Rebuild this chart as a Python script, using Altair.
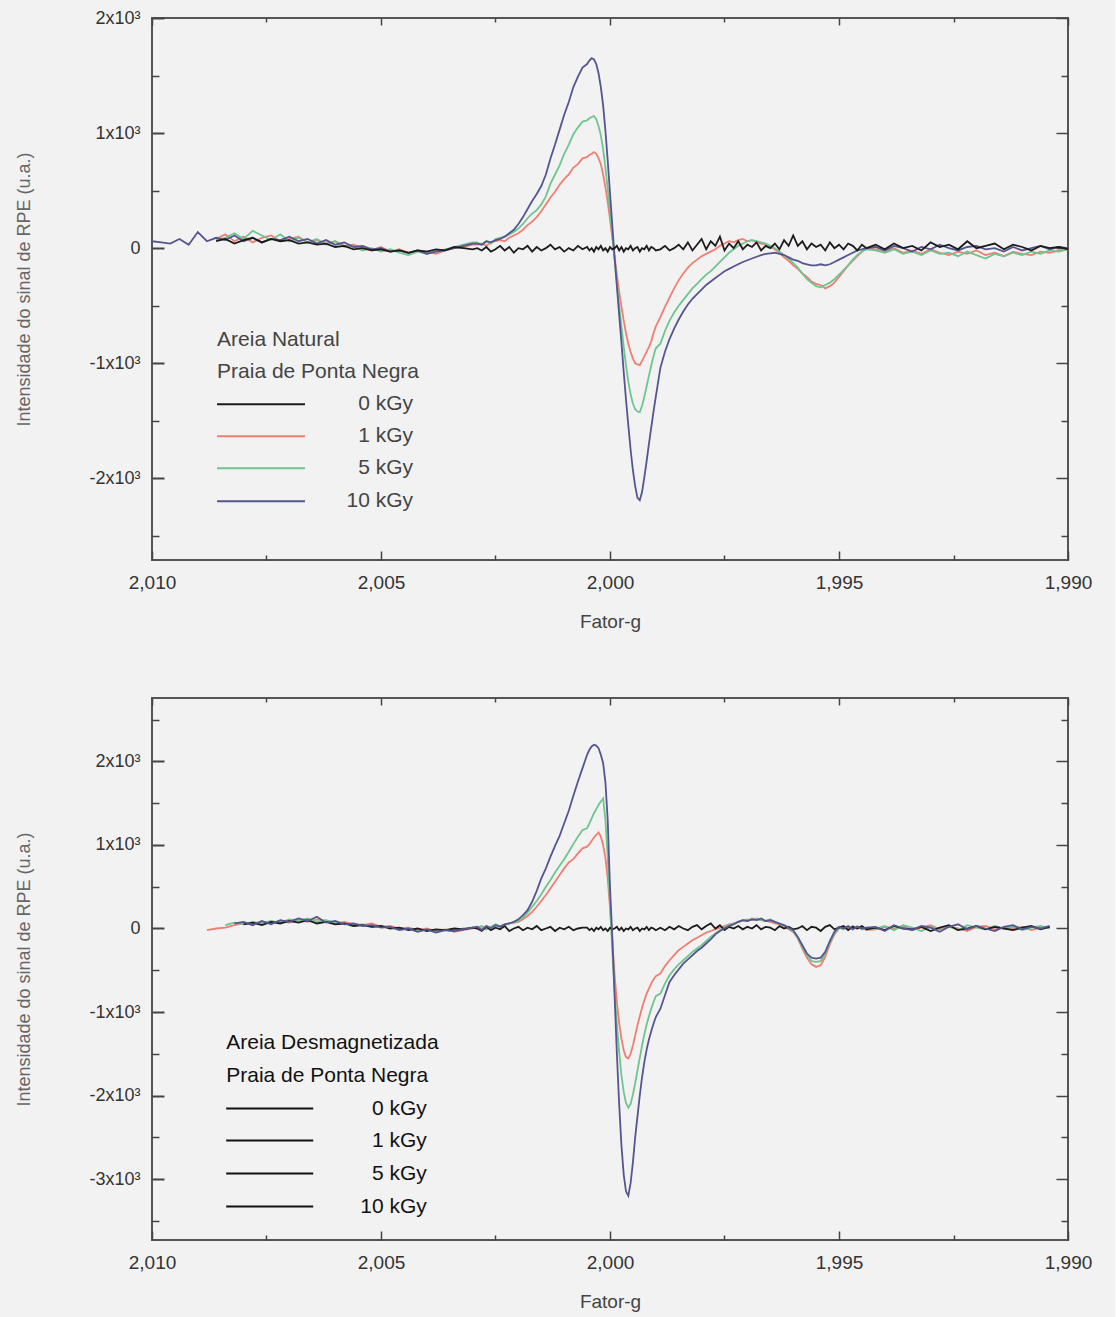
import altair as alt
import pandas as pd

SERIES = ["0 kGy", "1 kGy", "5 kGy", "10 kGy"]
COLORS = ["#1c1c1c", "#ee7f72", "#6fc48f", "#55558f"]

X_MAJOR = [2.010, 2.005, 2.000, 1.995, 1.990]
X_MINOR = [2.0075, 2.0025, 1.9975, 1.9925]

TOP_Y_MAJOR = [-2000, -1000, 0, 1000, 2000]
TOP_Y_MINOR = [-2500, -1500, -500, 500, 1500]
BOT_Y_MAJOR = [-3000, -2000, -1000, 0, 1000, 2000]
BOT_Y_MINOR = [-3500, -2500, -1500, -500, 500, 1500, 2500]

TOP_Y_DOMAIN = [-2710, 2000]
BOT_Y_DOMAIN = [-3730, 2760]

# ---- g-factor sample positions ----
G_A_TOP = [2.0100, 2.0098, 2.0096, 2.0094, 2.0092, 2.0090, 2.0088, 2.0086, 2.0084, 2.0082,
           2.0080, 2.0078, 2.0076, 2.0074, 2.0072, 2.0070, 2.0068, 2.0066, 2.0064, 2.0062,
           2.0060, 2.0058, 2.0056, 2.0054, 2.0052, 2.0050, 2.0048, 2.0046, 2.0044, 2.0042,
           2.0040, 2.0038, 2.0036, 2.0034, 2.0032, 2.0030]
G_A_BOT = [2.0088, 2.0086, 2.0084, 2.0082, 2.0080, 2.0078, 2.0076, 2.0074, 2.0072, 2.0070,
           2.0068, 2.0066, 2.0064, 2.0062, 2.0060, 2.0058, 2.0056, 2.0054, 2.0052, 2.0050,
           2.0048, 2.0046, 2.0044, 2.0042, 2.0040, 2.0038, 2.0036, 2.0034, 2.0032, 2.0030]
G_B = [2.0029, 2.0028, 2.0027, 2.0026, 2.0025, 2.0024, 2.0023, 2.0022, 2.0021, 2.0020,
       2.0019, 2.0018, 2.0017, 2.0016, 2.0015, 2.0014, 2.0013, 2.0012, 2.0011, 2.0010,
       2.0009, 2.0008, 2.0007, 2.0006]
G_C = [2.00050, 2.00045, 2.00040, 2.00035, 2.00030, 2.00025, 2.00020, 2.00015, 2.00010, 2.00005,
       2.00000, 1.99995, 1.99990, 1.99985, 1.99980, 1.99975, 1.99970, 1.99965, 1.99960, 1.99955,
       1.99950, 1.99945, 1.99940, 1.99935, 1.99930, 1.99925, 1.99920, 1.99915, 1.99910, 1.99905,
       1.99900]
G_D = [1.9989, 1.9988, 1.9987, 1.9986, 1.9985, 1.9984, 1.9983, 1.9982, 1.9981, 1.9980,
       1.9979, 1.9978, 1.9977, 1.9976, 1.9975, 1.9974, 1.9973, 1.9972, 1.9971, 1.9970,
       1.9969, 1.9968, 1.9967, 1.9966, 1.9965, 1.9964, 1.9963, 1.9962, 1.9961, 1.9960]
G_E = [1.9959, 1.9958, 1.9957, 1.9956, 1.9955, 1.9954, 1.9953, 1.9952, 1.9951, 1.9950,
       1.9949, 1.9948, 1.9947, 1.9946, 1.9945, 1.9944]
G_F_TOP = [1.9942, 1.9940, 1.9938, 1.9936, 1.9934, 1.9932, 1.9930, 1.9928, 1.9926, 1.9924,
           1.9922, 1.9920, 1.9918, 1.9916, 1.9914, 1.9912, 1.9910, 1.9908, 1.9906, 1.9904,
           1.9902, 1.9900]
G_F_BOT = [1.9942, 1.9940, 1.9938, 1.9936, 1.9934, 1.9932, 1.9930, 1.9928, 1.9926, 1.9924,
           1.9922, 1.9920, 1.9918, 1.9916, 1.9914, 1.9912, 1.9910, 1.9908, 1.9906, 1.9904]

G_TOP = G_A_TOP + G_B + G_C + G_D + G_E + G_F_TOP
G_BOT = G_A_BOT + G_B + G_C + G_D + G_E + G_F_BOT

N = None

# ---- Top panel: Areia Natural ----
TOP_0 = ([N] * 7 + [60, 80, 40, 70, 90, 50, 80, 60, 70, 40, 50, 30, 40, 10, 20, -10, 0, -20, -10, -30,
                    -20, -40, -20, -30, -10, -20, 10, 0, -10]
         + [0, -20, 10, -30, -10, 20, -20, 10, -40, 0, -10, 20, -30, 10, -20, 0, 30, -10, 10, -30,
            0, -20, 20, -10]
         + [10, -20, 0, -30, 10, -10, 20, -20, 0, -30, 10, -10, 0, 20, -20, 10, -30, 0, -10, 20,
            -20, 0, 10, -30, 0, -10, 20, -20, 10, 0, -20]
         + [-10, 20, -20, 0, 30, -10, 50, -20, 30, 80, -10, 60, 20, 100, -20, 40, 0, 60, -10, 30,
            10, 50, -20, 20, 0, 40, -10, 70, 20, 110]
         + [20, 60, -10, 40, 10, 30, -20, 50, 0, 30, -10, 40, 20, -20, 30, 0]
         + [30, -10, 40, 0, 20, -20, 50, 10, 30, -10, 60, 0, 20, 40, -10, 30, 10, -20, 20, 0, 10, -10])
TOP_1 = ([N] * 7 + [80, 120, 60, 100, 50, 90, 110, 60, 80, 100, 50, 70, 40, 60, 20, 30, 0, -20, 10, -30,
                    -10, -40, -20, -30, -50, -20, 0, 10, 30]
         + [30, 40, 20, 50, 60, 70, 60, 90, 110, 130, 160, 200, 230, 270, 320, 380, 440, 490, 550, 600,
            640, 700, 730, 780]
         + [790, 810, 820, 835, 820, 780, 730, 640, 530, 400, 250, 90, -70, -230, -380, -510, -630,
            -740, -830, -900, -960, -1000, -1010, -1017, -980, -940, -900, -860, -810, -740, -680]
         + [-600, -510, -430, -350, -280, -220, -170, -130, -100, -70, -50, -30, -10, 20, 40, 60, 50,
            70, 80, 60, 70, 50, 40, 30, 10, -10, -40, -80, -110, -150]
         + [-180, -220, -250, -290, -310, -320, -350, -330, -300, -250, -200, -150, -110, -70, -30, 0]
         + [-10, -30, 0, -40, -20, -50, -10, -40, -60, -30, -50, -20, -60, -40, -70, -30, -50, -60,
            -30, -40, -20, -10])
TOP_5 = ([N] * 7 + [70, 90, 130, 80, 150, 110, 70, 120, 60, 90, 50, 80, 30, 60, 10, 20, -20, 0, -30, -10,
                    -40, -60, -30, -50, -30, -10, 10, 30, 50]
         + [50, 30, 60, 40, 80, 90, 100, 120, 140, 170, 210, 260, 300, 330, 380, 450, 560, 640, 720,
            820, 900, 990, 1050, 1100]
         + [1110, 1130, 1140, 1148, 1120, 1060, 980, 860, 700, 520, 320, 120, -100, -300, -500, -680,
            -860, -1020, -1160, -1270, -1350, -1400, -1420, -1426, -1370, -1290, -1200, -1110, -1020,
            -940, -870]
         + [-830, -720, -630, -560, -500, -450, -400, -350, -310, -270, -230, -200, -160, -120, -80,
            -40, -10, 20, 40, 60, 70, 60, 50, 40, 20, 0, -30, -60, -90, -130]
         + [-170, -220, -270, -300, -330, -340, -320, -300, -270, -230, -190, -150, -100, -60, -30, -10]
         + [-20, -40, -10, -50, -30, -60, -20, -50, -40, -70, -30, -60, -90, -50, -70, -40, -60, -30,
            -50, -20, -30, -10])
TOP_10 = ([60, 50, 40, 80, 30, 140, 60, 90, 70, 110, 60, 90, 50, 80, 70, 100, 60, 80, 40, 70, 30, 50,
           10, 20, -10, 0, -30, -20, -40, -20, -50, -30, -20, 0, 20, 40]
          + [40, 30, 60, 50, 70, 80, 100, 130, 160, 210, 270, 340, 410, 470, 540, 640, 780, 900, 1030,
             1160, 1270, 1400, 1490, 1570]
          + [1600, 1630, 1652, 1640, 1600, 1520, 1400, 1240, 1020, 760, 480, 200, -80, -330, -580, -820,
             -1080, -1320, -1540, -1750, -1930, -2070, -2170, -2191, -2120, -1990, -1850, -1700, -1560,
             -1420, -1290]
          + [-1040, -900, -790, -700, -620, -550, -490, -440, -400, -360, -320, -290, -260, -230, -200,
             -180, -160, -140, -120, -105, -90, -75, -60, -50, -45, -40, -50, -60, -80, -100]
          + [-110, -130, -140, -150, -150, -140, -150, -140, -120, -100, -80, -60, -40, -20, -10, 0]
          + [10, -20, 20, 0, -30, 10, -10, 30, 0, -20, 10, 20, -10, 0, -30, 10, -20, 0, 20, -10, 10, 0])

# ---- Bottom panel: Areia Desmagnetizada ----
BOT_0 = ([N] * 4 + [50, 70, 40, 80, 60, 90, 70, 100, 60, 80, 50, 60, 30, 40, 20, 30, 0, 10, -20, 0,
                    -30, -10, -20, 0, -10, 10]
         + [0, -30, 20, -20, 10, -10, 30, -30, 0, 20, -20, 10, -10, 30, -20, 0, 20, -30, 10, -10,
            20, -20, 0, 10]
         + [10, -20, 0, -30, 10, -10, 20, -20, 0, -30, 10, -10, 0, 20, -20, 10, -30, 0, -10, 20,
            -20, 0, 10, -30, 0, -10, 20, -20, 10, 0, -20]
         + [10, -20, 20, -10, 30, 0, -20, 20, 40, -10, 30, 60, 0, 40, -20, 20, 0, 30, -10, 20,
            0, 40, -10, 20, 10, -20, 30, 0, 20, -10]
         + [0, 30, -20, 20, 10, -30, 20, 40, -10, 10, 30, -20, 20, 0, 30, -10]
         + [10, -20, 30, 0, -10, 20, -30, 10, 40, -20, 0, 30, -10, 20, 0, -20, 10, 30, -10, 20])
BOT_1 = ([-20, 0, 10, 40, 60, 50, 80, 60, 90, 70, 100, 80, 110, 90, 60, 80, 50, 40, 60, 20, 30, 0,
          10, -20, 0, -30, -10, -40, -20, 0]
         + [20, 0, 30, 10, 40, 20, 50, 60, 70, 80, 110, 150, 200, 260, 330, 400, 480, 560, 640, 720,
            790, 830, 900, 960]
         + [980, 1010, 1050, 1090, 1120, 1150, 1100, 1000, 850, 600, 250, -150, -550, -880, -1130,
            -1320, -1460, -1540, -1557, -1500, -1400, -1280, -1160, -1050, -950, -860, -780, -720,
            -660, -610, -570]
         + [-540, -450, -380, -320, -260, -220, -180, -140, -110, -80, -50, -30, -10, 10, 30, 50, 60,
            80, 100, 90, 120, 110, 100, 90, 80, 60, 50, 20, -10, -40]
         + [-120, -240, -350, -430, -460, -440, -340, -190, -70, 0, 20, -10, 30, 0, 10, -20]
         + [-10, 20, 0, 30, -20, 10, 40, -10, 20, 0, -30, 20, 30, -10, 10, 0, 20, -20, 10, 20])
BOT_5 = ([N] * 2 + [40, 70, 50, 80, 60, 90, 70, 110, 90, 120, 80, 100, 70, 60, 40, 50, 20, 30, 10, -10,
                    0, -30, -10, -40, -20, -30, 0, 10]
         + [10, 30, -10, 20, 50, 30, 40, 60, 70, 90, 130, 190, 260, 330, 410, 500, 580, 670, 750, 830,
            920, 1010, 1100, 1180]
         + [1200, 1260, 1320, 1380, 1430, 1480, 1520, 1557, 1300, 850, 300, -250, -750, -1150, -1480,
            -1760, -1960, -2090, -2144, -2100, -1990, -1850, -1700, -1550, -1400, -1270, -1150, -1050,
            -960, -880, -810]
         + [-780, -660, -560, -490, -430, -380, -330, -280, -240, -200, -150, -100, -60, -20, 10, 40,
            60, 80, 90, 110, 100, 120, 100, 90, 110, 80, 60, 30, 0, -30]
         + [-110, -220, -320, -390, -400, -390, -300, -170, -60, 10, -10, 20, 0, 30, -10, 0]
         + [0, 30, -20, 40, 10, -30, 20, 0, 30, -20, 40, 10, -10, 30, 0, 20, -20, 10, 30, 0])
BOT_10 = ([N] * 3 + [60, 80, 40, 90, 50, 100, 80, 120, 90, 140, 70, 90, 50, 60, 30, 40, 10, 20, -20, 0,
                     -40, -10, -50, -20, -30, -10, 10]
          + [20, -20, 30, 0, 40, 20, 50, 60, 80, 110, 160, 220, 320, 450, 600, 720, 860, 990, 1110,
             1260, 1410, 1590, 1760, 1920]
          + [2080, 2140, 2180, 2200, 2190, 2160, 2080, 1980, 1750, 1300, 500, -100, -800, -1500, -2100,
             -2600, -2950, -3150, -3200, -3050, -2800, -2500, -2250, -2000, -1780, -1600, -1450, -1330,
             -1230, -1140, -1060]
          + [-960, -800, -640, -560, -490, -420, -370, -320, -270, -230, -180, -130, -70, -30, 0, 30,
             50, 80, 100, 90, 110, 100, 120, 90, 100, 80, 60, 40, 10, -20]
          + [-100, -200, -300, -350, -360, -350, -280, -150, -40, 20, 0, 30, -10, 20, 0, 10]
          + [20, -30, 40, 0, -20, 30, 10, -40, 20, 50, -10, 30, 0, -30, 20, 40, -10, 20, 0, 30])

# ---- legend text / positions (data units) ----
TOP_LEG_TITLE = ["Areia Natural", "Praia de Ponta Negra"]
TOP_LEG_TITLE_V = [-800, -1078]
TOP_LEG_ROW_V = [-1357, -1635, -1913, -2200]
TOP_LEG_G = [2.00858, 2.00666, 2.0043]

BOT_LEG_TITLE = ["Areia Desmagnetizada", "Praia de Ponta Negra"]
BOT_LEG_TITLE_V = [-1377, -1772]
BOT_LEG_ROW_V = [-2156, -2539, -2934, -3329]
BOT_LEG_G = [2.00838, 2.00648, 2.0040]

FONT = "Liberation Sans"
AX_COLOR = "#444"


def long_df(g, series_vals, order):
    rows = []
    for s in order:
        vals = series_vals[s]
        assert len(vals) == len(g), (s, len(vals), len(g))
        for gi, vi in zip(g, vals):
            if vi is not None:
                rows.append({"g": gi, "v": vi, "series": s})
    return pd.DataFrame(rows)


XS = alt.Scale(domain=[1.990, 2.010], reverse=True, nice=False, zero=False)
CS = alt.Scale(domain=SERIES, range=COLORS)


def axis_pair(kind, y_major, y_minor, ytitle):
    """kind: 'main', 'minor_bl', 'major_tr', 'minor_tr'"""
    common = dict(domain=False, grid=False, tickColor=AX_COLOR, tickWidth=1.5, title=None)
    if kind == "main":
        xa = alt.Axis(orient="bottom", values=X_MAJOR, tickSize=9, offset=-9, labels=True,
                      labelExpr="replace(format(datum.value, '.3f'), '.', ',')",
                      labelFlush=False, labelOverlap=False, labelFont=FONT, labelFontSize=19,
                      labelColor="#333", labelPadding=13,
                      domain=False, grid=False, tickColor=AX_COLOR, tickWidth=1.5,
                      title="Fator-g", titleFont=FONT, titleFontSize=19, titleFontWeight="normal",
                      titleColor="#444", titlePadding=20)
        ya = alt.Axis(orient="left", values=y_major, tickSize=12, offset=-12, labels=True,
                      labelExpr="datum.value == 0 ? '0' : (datum.value < 0 ? '-' : '') + abs(datum.value / 1000) + 'x10³'",
                      labelOverlap=False, labelFont=FONT, labelFontSize=18, labelColor="#333",
                      labelPadding=12,
                      domain=False, grid=False, tickColor=AX_COLOR, tickWidth=2,
                      title=ytitle, titleFont=FONT, titleFontSize=18, titleFontWeight="normal",
                      titleColor="#666", titlePadding=55)
    elif kind == "minor_bl":
        xa = alt.Axis(orient="bottom", values=X_MINOR, tickSize=5, offset=-5, labels=False, **common)
        ya = alt.Axis(orient="left", values=y_minor, tickSize=7, offset=-7, labels=False, **common)
    elif kind == "major_tr":
        xa = alt.Axis(orient="top", values=X_MAJOR, tickSize=7, offset=-7, labels=False, **common)
        ya = alt.Axis(orient="right", values=y_major, tickSize=12, offset=-12, labels=False, **common)
    else:
        xa = alt.Axis(orient="top", values=X_MINOR, tickSize=4, offset=-4, labels=False, **common)
        ya = alt.Axis(orient="right", values=y_minor, tickSize=7, offset=-7, labels=False, **common)
    return xa, ya


def panel(df, draw_order, ydomain, y_major, y_minor, ytitle,
          leg_title, leg_title_v, leg_row_v, leg_g, legend_colored, text_color):
    ys = alt.Scale(domain=ydomain, nice=False, zero=False)
    layers = []
    for kind in ["main", "minor_bl", "major_tr", "minor_tr"]:
        xa, ya = axis_pair(kind, y_major, y_minor, ytitle)
        layers.append(
            alt.Chart(df).mark_line(opacity=0).encode(
                x=alt.X("g:Q", scale=XS, axis=xa),
                y=alt.Y("v:Q", scale=ys, axis=ya),
            )
        )
    for s in draw_order:
        layers.append(
            alt.Chart(df).transform_filter(alt.datum.series == s).mark_line(
                strokeWidth=1.8, clip=True
            ).encode(
                x=alt.X("g:Q", scale=XS, axis=None),
                y=alt.Y("v:Q", scale=ys, axis=None),
                color=alt.Color("series:N", scale=CS, legend=None),
            )
        )
    leg_rows = pd.DataFrame({
        "series": SERIES, "v": leg_row_v,
        "g1": [leg_g[0]] * 4, "g2": [leg_g[1]] * 4, "glab": [leg_g[2]] * 4,
    })
    leg_titles = pd.DataFrame({"label": leg_title, "v": leg_title_v, "g": [leg_g[0]] * len(leg_title)})
    rule_color = (alt.Color("series:N", scale=CS, legend=None) if legend_colored
                  else alt.value("#111111"))
    layers.append(
        alt.Chart(leg_rows).mark_rule(strokeWidth=2).encode(
            x=alt.X("g1:Q", scale=XS, axis=None), x2="g2:Q",
            y=alt.Y("v:Q", scale=ys, axis=None),
            color=rule_color,
        )
    )
    layers.append(
        alt.Chart(leg_rows).mark_text(align="right", baseline="middle", font=FONT, fontSize=21,
                                      color=text_color).encode(
            x=alt.X("glab:Q", scale=XS, axis=None),
            y=alt.Y("v:Q", scale=ys, axis=None),
            text="series:N",
        )
    )
    layers.append(
        alt.Chart(leg_titles).mark_text(align="left", baseline="middle", font=FONT, fontSize=21,
                                        color=text_color).encode(
            x=alt.X("g:Q", scale=XS, axis=None),
            y=alt.Y("v:Q", scale=ys, axis=None),
            text="label:N",
        )
    )
    return alt.layer(*layers).resolve_axis(x="independent", y="independent").properties(
        width=916, height=542
    )


top_df = long_df(G_TOP, dict(zip(SERIES, [TOP_0, TOP_1, TOP_5, TOP_10])),
                 ["1 kGy", "5 kGy", "10 kGy", "0 kGy"])
bot_df = long_df(G_BOT, dict(zip(SERIES, [BOT_0, BOT_1, BOT_5, BOT_10])),
                 ["1 kGy", "5 kGy", "0 kGy", "10 kGy"])

top = panel(top_df, ["1 kGy", "5 kGy", "10 kGy", "0 kGy"], TOP_Y_DOMAIN, TOP_Y_MAJOR, TOP_Y_MINOR,
            "Intensidade do sinal de RPE (u.a.)",
            TOP_LEG_TITLE, TOP_LEG_TITLE_V, TOP_LEG_ROW_V, TOP_LEG_G, True, "#444")
bottom = panel(bot_df, ["1 kGy", "5 kGy", "0 kGy", "10 kGy"], BOT_Y_DOMAIN, BOT_Y_MAJOR, BOT_Y_MINOR,
               "Intensidade do sinal de RPE (u.a.)",
               BOT_LEG_TITLE, BOT_LEG_TITLE_V, BOT_LEG_ROW_V, BOT_LEG_G, False, "#111")

chart = alt.vconcat(top, bottom, spacing=64).properties(
    padding={"left": 14, "top": 8, "right": 22, "bottom": 6},
    background="#f2f2f2",
).configure_view(stroke="#555", strokeWidth=2)

chart.save("out.html", embed_options={"renderer": "svg", "actions": False})
